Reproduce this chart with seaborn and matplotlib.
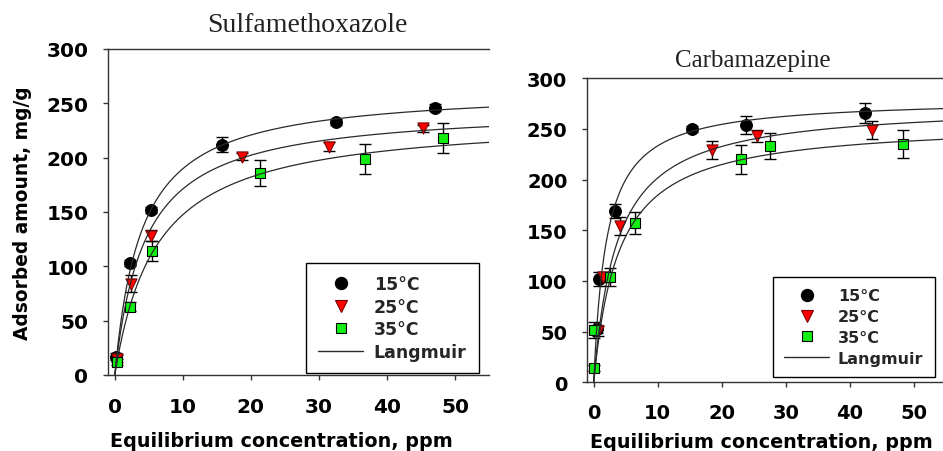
import numpy as np
import pandas as pd
import matplotlib
matplotlib.use('Agg')
import matplotlib.pyplot as plt
import seaborn as sns
from matplotlib.lines import Line2D

# ---------------- data ----------------
temps = ['15°C', '25°C', '35°C']
titles = ['Sulfamethoxazole', 'Carbamazepine']
x_ticks = [0, 10, 20, 30, 40, 50]
y_ticks = [0, 50, 100, 150, 200, 250, 300]

# Sulfamethoxazole
smx_x_15 = [0.2, 2.3, 5.3, 15.7, 32.5, 47.0]
smx_y_15 = [17, 103, 152, 212, 233, 246]
smx_e_15 = [3, 3, 3, 7, 3, 3]
smx_x_25 = [0.3, 2.45, 5.3, 18.7, 31.5, 45.3]
smx_y_25 = [15, 84, 128, 201, 210, 227]
smx_e_25 = [3, 8, 5, 3, 4, 3]
smx_x_35 = [0.25, 2.2, 5.4, 21.3, 36.8, 48.3]
smx_y_35 = [12, 63, 114, 186, 199, 218]
smx_e_35 = [3, 4, 9, 12, 14, 14]
smx_qm = [264, 247, 238]      # Langmuir q_max
smx_K = [0.256, 0.226, 0.163]  # Langmuir K

# Carbamazepine
cbz_x_15 = [0.5, 0.9, 3.3, 15.4, 23.8, 42.4]
cbz_y_15 = [53, 102, 169, 250, 254, 266]
cbz_e_15 = [4, 7, 7, 3, 9, 10]
cbz_x_25 = [0.6, 1.5, 4.1, 18.5, 25.5, 43.5]
cbz_y_25 = [51, 104, 154, 229, 243, 249]
cbz_e_25 = [5, 5, 9, 9, 6, 9]
cbz_x_35 = [0.05, 0.1, 2.5, 6.4, 23.1, 27.6, 48.4]
cbz_y_35 = [14, 52, 104, 157, 220, 233, 235]
cbz_e_35 = [3, 8, 9, 11, 14, 13, 14]
cbz_qm = [280, 275, 257]
cbz_K = [0.50, 0.275, 0.255]

panels = [
    dict(xs=[smx_x_15, smx_x_25, smx_x_35], ys=[smx_y_15, smx_y_25, smx_y_35],
         es=[smx_e_15, smx_e_25, smx_e_35], qm=smx_qm, K=smx_K),
    dict(xs=[cbz_x_15, cbz_x_25, cbz_x_35], ys=[cbz_y_15, cbz_y_25, cbz_y_35],
         es=[cbz_e_15, cbz_e_25, cbz_e_35], qm=cbz_qm, K=cbz_K),
]

# ---------------- style ----------------
sns.set_theme(style='white')
plt.rcParams['font.family'] = ['DejaVu Sans']
plt.rcParams['font.weight'] = 'bold'

W, H = 943, 452
fig = plt.figure(figsize=(W / 100, H / 100), dpi=100)

def fx(px):
    return px / W

def fy(py):
    return (H - py) / H

marker_styles = [
    dict(marker='o', color='black', edgecolor='black', s=72),
    dict(marker='v', color='#ff0000', edgecolor='#7a0000', s=64),
    dict(marker='s', color='#11ee11', edgecolor='black', s=56),
]
line_color = '#2a2a2a'

geo = [
    dict(l=108, t=50, r=489, b=376, xlim=(-1.0, 55.0), tick_size=14.5, xpad=12,
         title_x=307.5, title_y=31.7, title_fs=20,
         xl_x=110, xl_y=447.3, leg=(306, 264), leg_fs=12.5, ls=0.26, hl=2.6,
         htp=0.6),
    dict(l=587, t=79.3, r=943, b=383.3, xlim=(-1.05, 54.6), tick_size=14, xpad=11,
         title_x=752.5, title_y=67.3, title_fs=18,
         xl_x=590, xl_y=448.3, leg=(773.3, 278.3), leg_fs=11.5, ls=0.36, hl=2.8,
         htp=0.55),
]

for i, (p, g) in enumerate(zip(panels, geo)):
    ax = fig.add_axes([fx(g['l']), fy(g['b']), fx(g['r'] - g['l']), (g['b'] - g['t']) / H])
    grid = np.linspace(0, 56, 600)
    for j in range(3):
        df = pd.DataFrame({'Ce': p['xs'][j], 'qe': p['ys'][j], 'err': p['es'][j]})
        ax.errorbar(df['Ce'], df['qe'], yerr=df['err'], fmt='none', ecolor='black',
                    elinewidth=1.0, capsize=4.2, capthick=1.0, zorder=2)
        ms = marker_styles[j]
        sns.scatterplot(data=df, x='Ce', y='qe', marker=ms['marker'], color=ms['color'],
                        edgecolor=ms['edgecolor'], linewidth=0.8, s=ms['s'], ax=ax,
                        zorder=3, legend=False)
        qm, K = p['qm'][j], p['K'][j]
        fit = pd.DataFrame({'C': grid, 'q': qm * K * grid / (1 + K * grid)})
        sns.lineplot(data=fit, x='C', y='q', color=line_color, lw=0.9, ax=ax, zorder=4,
                     legend=False)

    ax.set_xlim(*g['xlim'])
    ax.set_ylim(0, 300)
    ax.set_xticks(x_ticks)
    ax.set_yticks(y_ticks)
    ax.set_xticklabels([str(v) for v in x_ticks], fontsize=g['tick_size'], fontweight='bold')
    ax.set_yticklabels([str(v) for v in y_ticks], fontsize=g['tick_size'], fontweight='bold')
    ax.tick_params(axis='both', direction='out', length=3.6, width=1, color='#333333',
                   bottom=True, left=True, labelcolor='black')
    ax.tick_params(axis='x', pad=g['xpad'])
    ax.tick_params(axis='y', pad=10.5)
    for side in ['left', 'bottom', 'top']:
        ax.spines[side].set_visible(True)
        ax.spines[side].set_color('#333333')
        ax.spines[side].set_linewidth(1.0)
    ax.spines['right'].set_visible(False)
    ax.set_facecolor('white')

    ax.set_xlabel('Equilibrium concentration, ppm', fontsize=13.8, fontweight='bold',
                  color='black')
    ax.xaxis.label.set_ha('left')
    ax.xaxis.label.set_va('baseline')
    ax.xaxis.set_label_coords((g['xl_x'] - g['l']) / (g['r'] - g['l']),
                              (g['b'] - g['xl_y']) / (g['b'] - g['t']))
    if i == 0:
        ax.set_ylabel('Adsorbed amount, mg/g', fontsize=13.4, fontweight='bold',
                      color='black')
        ax.yaxis.label.set_va('center')
        ax.yaxis.set_label_coords((23 - g['l']) / (g['r'] - g['l']),
                                  (g['b'] - 213) / (g['b'] - g['t']))
    else:
        ax.set_ylabel('')

    fig.text(fx(g['title_x']), fy(g['title_y']), titles[i], ha='center', va='baseline',
             fontsize=g['title_fs'], fontweight='normal', family='Liberation Serif',
             color='#222222')

    handles = [
        Line2D([], [], ls='none', marker='o', markersize=8.6, markerfacecolor='black',
               markeredgecolor='black'),
        Line2D([], [], ls='none', marker='v', markersize=8, markerfacecolor='#ff0000',
               markeredgecolor='#7a0000', markeredgewidth=0.8),
        Line2D([], [], ls='none', marker='s', markersize=7.5, markerfacecolor='#11ee11',
               markeredgecolor='black', markeredgewidth=0.8),
        Line2D([], [], color=line_color, lw=1.0),
    ]
    labels = temps + ['Langmuir']
    lx, ly = g['leg']
    leg = ax.legend(handles, labels, loc='upper left', bbox_to_anchor=(fx(lx), fy(ly)),
                    bbox_transform=fig.transFigure, borderaxespad=0, frameon=True,
                    fancybox=False, framealpha=1, edgecolor='black', borderpad=0.7,
                    labelspacing=g['ls'], handlelength=g['hl'], handletextpad=g['htp'],
                    prop=dict(size=g['leg_fs'], weight='bold'))
    leg.get_frame().set_linewidth(1.0)
    leg.set_zorder(10)

fig.savefig('out.png', dpi=100, facecolor='white')
